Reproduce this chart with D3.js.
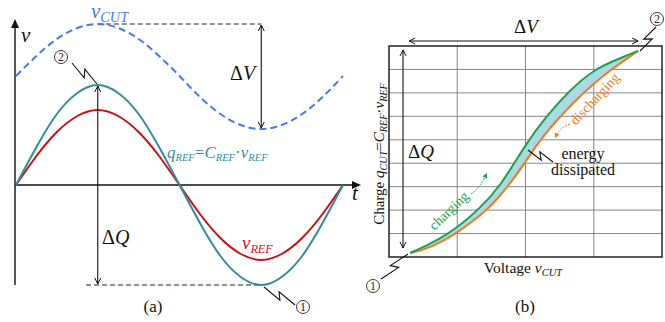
<!DOCTYPE html>
<html><head><meta charset="utf-8">
<script src="https://cdn.jsdelivr.net/npm/d3@7"></script>
<style>body{margin:0;background:#fff}svg{display:block}text{font-family:"Liberation Serif","Times New Roman",serif}</style>
</head><body>
<script>
// ---------- data ----------
// panel (a): one period sampled in sixteenths
const tSamples = [0,0.0625,0.125,0.1875,0.25,0.3125,0.375,0.4375,0.5,0.5625,0.625,0.6875,0.75,0.8125,0.875,0.9375,1];
const qRef = [0,0.38,0.71,0.92,1.0,0.92,0.71,0.38,0,-0.38,-0.71,-0.92,-1.0,-0.92,-0.71,-0.38,0];
const vRef = [0,0.29,0.53,0.69,0.75,0.69,0.53,0.29,0,-0.29,-0.53,-0.69,-0.75,-0.69,-0.53,-0.29,0];
const vCut = [1.09,1.29,1.46,1.57,1.61,1.57,1.46,1.29,1.09,0.88,0.71,0.60,0.56,0.60,0.71,0.88,1.09];
// panel (b): hysteresis loop (voltage in grid columns, charge in grid rows)
const chargingV = [0.31,0.60,0.86,1.08,1.30,1.63,2.01,2.31,2.61,3.00,3.43,3.65];
const chargingQ = [0.17,0.55,0.98,1.45,2.00,2.99,4.86,6.01,7.00,8.02,8.53,8.79];
const dischargingV = [0.31,0.60,0.97,1.19,1.44,1.74,1.99,2.21,2.51,2.84,3.24,3.65];
const dischargingQ = [0.17,0.38,0.98,1.45,2.00,2.99,4.01,4.99,6.01,7.00,7.98,8.79];
const gridCols = [0,1,2,3,4];
const gridRows = [0,1,2,3,4,5,6,7,8,9];

const W=665,H=322;
const svg=d3.select("body").append("svg").attr("width",W).attr("height",H);

const TEAL="#338c9c", RED="#c80f14", BLUE="#4777f0", GREEN="#1aa34f", ORANGE="#f07a1e", FILL="#acd8e4";

function head(g,x,y,ang,len,wid,filled,color){
  const c=Math.cos(ang),s=Math.sin(ang);
  const bx=x-c*len, by=y-s*len;
  const p1=[bx - s*wid, by + c*wid], p2=[bx + s*wid, by - c*wid];
  if(filled) g.append("path").attr("d",`M${x},${y}L${p1}L${p2}Z`).attr("fill",color);
  else g.append("path").attr("d",`M${p1}L${x},${y}L${p2}`).attr("fill","none").attr("stroke",color).attr("stroke-width",1);
}
function dblArrow(g,x1,y1,x2,y2,color){
  g.append("line").attr("x1",x1).attr("y1",y1).attr("x2",x2).attr("y2",y2).attr("stroke",color).attr("stroke-width",1.1);
  const a=Math.atan2(y2-y1,x2-x1);
  head(g,x2,y2,a,6,3,false,color);
  head(g,x1,y1,a+Math.PI,6,3,false,color);
}
function zig(g,x1,y1,x2,y2,color){
  const dx=x2-x1, dy=y2-y1, L=Math.hypot(dx,dy), ux=dx/L, uy=dy/L, nx=-uy, ny=ux;
  const mx=(x1+x2)/2, my=(y1+y2)/2;
  const a=[mx+nx*3.5+ux*2.5, my+ny*3.5+uy*2.5], b=[mx-nx*3.5-ux*2.5, my-ny*3.5-uy*2.5];
  g.append("path").attr("d",`M${x1},${y1}L${a}L${b}L${x2},${y2}`).attr("fill","none").attr("stroke",color).attr("stroke-width",1.1);
}
function circled(g,x,y,label){
  g.append("circle").attr("cx",x).attr("cy",y).attr("r",6.5).attr("fill","none").attr("stroke","#222").attr("stroke-width",0.9);
  g.append("text").attr("x",x).attr("y",y+4).attr("text-anchor","middle").attr("font-size",12).attr("fill","#222").text(label);
}
function rich(g,x,y,parts,size,color,anchor,subScale){
  const ss=subScale||0.68;
  const t=g.append("text").attr("x",x).attr("y",y).attr("font-size",size).attr("fill",color).attr("text-anchor",anchor||"start");
  let shift=0;
  parts.forEach(([s,k])=>{
    const sp=t.append("tspan").text(s);
    const target = k==='s'? size*0.2 : 0;
    sp.attr("dy", target-shift); shift=target;
    if(k==='s') sp.attr("font-size",size*ss).attr("font-style","italic");
    if(k==='i') sp.attr("font-style","italic");
  });
  return t;
}

// ---------- panel (a) ----------
const gA=svg.append("g");
const xL=d3.scaleLinear().domain([0,1]).range([16,343]);
const yL=d3.scaleLinear().domain([-1,1]).range([285,85]);
const lineA=(vals)=>d3.line().x((d,i)=>xL(tSamples[i])).y(d=>yL(d)).curve(d3.curveNatural)(vals);

// axes
gA.append("line").attr("x1",xL(0)-1).attr("x2",xL(0)-1).attr("y1",yL(-1)).attr("y2",26).attr("stroke","#111").attr("stroke-width",1.4);
head(gA,xL(0)-1,19,-Math.PI/2,9,4,true,"#111");
gA.append("line").attr("x1",xL(0)-1).attr("x2",354).attr("y1",yL(0)).attr("y2",yL(0)).attr("stroke","#111").attr("stroke-width",1.4);
head(gA,361,yL(0),0,9,4,true,"#111");

// dashed reference lines
gA.append("line").attr("x1",xL(0.25)).attr("x2",xL(0.75)).attr("y1",yL(d3.max(vCut))).attr("y2",yL(d3.max(vCut)))
  .attr("stroke","#222").attr("stroke-width",1).attr("stroke-dasharray","5,3");
gA.append("line").attr("x1",86).attr("x2",xL(0.75)).attr("y1",yL(d3.min(qRef))).attr("y2",yL(d3.min(qRef)))
  .attr("stroke","#222").attr("stroke-width",1).attr("stroke-dasharray","5,3");

// curves
gA.append("path").attr("d",lineA(vCut)).attr("fill","none").attr("stroke",BLUE).attr("stroke-width",2).attr("stroke-dasharray","7,4");
gA.append("path").attr("d",lineA(vRef)).attr("fill","none").attr("stroke",RED).attr("stroke-width",2);
gA.append("path").attr("d",lineA(qRef)).attr("fill","none").attr("stroke",TEAL).attr("stroke-width",2);

// arrows
dblArrow(gA,xL(0.75),yL(d3.max(vCut))+1,xL(0.75),yL(d3.min(vCut))-1,"#111");
dblArrow(gA,xL(0.25),yL(1)+1,xL(0.25),yL(-1)-1,"#111");

// labels
rich(gA,21,42,[["v","i"]],21,"#111");
rich(gA,352,200,[["t","i"]],21,"#111");
rich(gA,91,18,[["v","i"],["CUT","s"]],21,BLUE);
rich(gA,230,80,[["Δ",""],["V","i"]],20,"#111");
rich(gA,102,244,[["Δ",""],["Q","i"]],20,"#111");
rich(gA,167,158,[["q","i"],["REF","s"],["=",""],["C","i"],["REF","s"],["·",""],["v","i"],["REF","s"]],17,TEAL,"start",0.62);
rich(gA,242,249,[["v","i"],["REF","s"]],19,RED,"start",0.64);
gA.append("text").attr("x",153).attr("y",312).attr("text-anchor","middle").attr("font-size",17).attr("fill","#111").text("(a)");
zig(gA,72,63,97,84,"#111");
circled(gA,61,57,"2");
zig(gA,264,287,295,305,"#111");
circled(gA,303,307,"1");

// ---------- panel (b) ----------
const gB=svg.append("g");
const xR=d3.scaleLinear().domain([0,4]).range([389,662]);
const yR=d3.scaleLinear().domain([0,9]).range([257,46]);

gB.selectAll("line.v").data(gridCols.slice(1,-1)).join("line").attr("x1",d=>xR(d)).attr("x2",d=>xR(d)).attr("y1",yR(0)).attr("y2",yR(9)).attr("stroke","#7a7a7a").attr("stroke-width",0.9);
gB.selectAll("line.h").data(gridRows.slice(1,-1)).join("line").attr("y1",d=>yR(d)).attr("y2",d=>yR(d)).attr("x1",xR(0)).attr("x2",xR(4)).attr("stroke","#7a7a7a").attr("stroke-width",0.9);

const chg=chargingV.map((v,i)=>[v,chargingQ[i]]);
const dis=dischargingV.map((v,i)=>[v,dischargingQ[i]]);
const lineB=d3.line().x(d=>xR(d[0])).y(d=>yR(d[1])).curve(d3.curveBasis);
gB.append("path").attr("d",lineB(chg)+lineB(dis.slice().reverse()).replace(/^M/,"L")+"Z").attr("fill",FILL).attr("stroke","none");
gB.append("path").attr("d",lineB(dis)).attr("fill","none").attr("stroke",ORANGE).attr("stroke-width",2);
gB.append("path").attr("d",lineB(chg)).attr("fill","none").attr("stroke",GREEN).attr("stroke-width",2);

gB.append("rect").attr("x",xR(0)).attr("y",yR(9)).attr("width",xR(4)-xR(0)).attr("height",yR(0)-yR(9)).attr("fill","none").attr("stroke","#222").attr("stroke-width",1.5);

// arrows
dblArrow(gB,xR(chargingV[0])-1,41,xR(chargingV[chargingV.length-1]),41,"#111");
dblArrow(gB,403,yR(chargingQ[chargingQ.length-1])-1,403,yR(chargingQ[0])-5,"#111");

rich(gB,526,33,[["Δ",""],["V","i"]],19,"#111","middle");
rich(gB,408,158,[["Δ",""],["Q","i"]],19,"#111");
rich(gB,523,273,[["Voltage ",""],["v","i"],["CUT","s"]],15.5,"#111","middle");
rich(gB,0,0,[["Charge ",""],["q","i"],["CUT","s"],["=",""],["C","i"],["REF","s"],["·",""],["v","i"],["REF","s"]],15,"#111","middle")
  .attr("transform","translate(384,154) rotate(-90)");
gB.append("text").attr("x",525).attr("y",312).attr("text-anchor","middle").attr("font-size",17).attr("fill","#111").text("(b)");

// energy dissipated
zig(gB,528,150,553,162,"#111");
gB.append("text").attr("x",583).attr("y",159).attr("text-anchor","middle").attr("font-size",16).attr("fill","#111").text("energy");
gB.append("text").attr("x",583).attr("y",175).attr("text-anchor","middle").attr("font-size",16).attr("fill","#111").text("dissipated");

// charging / discharging
gB.append("text").attr("transform","translate(452,214) rotate(-44)").attr("text-anchor","middle").attr("font-size",14).attr("fill",GREEN).text("charging");
gB.append("path").attr("d","M471,194 Q480,188 485,177").attr("fill","none").attr("stroke",GREEN).attr("stroke-width",1).attr("stroke-dasharray","2,1.2");
head(gB,487,173,-1.1,5,2.5,true,GREEN);
gB.append("text").attr("transform","translate(598,102) rotate(-47)").attr("text-anchor","middle").attr("font-size",14).attr("fill",ORANGE).text("discharging");
gB.append("path").attr("d","M570,124 Q561,127 557,134").attr("fill","none").attr("stroke",ORANGE).attr("stroke-width",1).attr("stroke-dasharray","2,1.2");
head(gB,555,138,2.0,5,2.5,true,ORANGE);

// numbered points
zig(gB,408,254,381,279,"#111");
circled(gB,373,286,"1");
zig(gB,640,51,656,27,"#111");
circled(gB,657,19,"2");
</script>
</body></html>
